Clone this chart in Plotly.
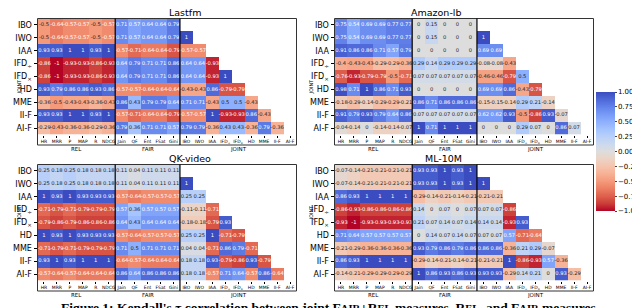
import plotly.graph_objects as go
import numpy as np

# ---------------- data ----------------
row_labels = ["IBO", "IWO", "IAA", "IFD<sub>÷</sub>", "IFD<sub>×</sub>", "HD", "MME", "II-F", "AI-F"]
rel_cols = ["HR", "MRR", "P", "MAP", "R", "NDCG"]
fair_cols = ["Jain", "QF", "Ent", "FSat", "Gini"]
joint_cols = ["IBO", "IWO", "IAA", "IFD<sub>÷</sub>", "IFD<sub>×</sub>", "HD", "MME", "II-F", "AI-F"]
datasets = ["Lastfm", "Amazon-lb", "QK-video", "ML-10M"]

lastfm_rel = [
    [-0.5, -0.64, -0.57, -0.57, -0.5, -0.57],
    [-0.5, -0.64, -0.57, -0.57, -0.5, -0.57],
    [0.93, 0.93, 1, 1, 0.93, 1],
    [-0.86, -1, -0.93, -0.93, -0.86, -0.93],
    [-0.86, -1, -0.93, -0.93, -0.86, -0.93],
    [0.93, 0.79, 0.86, 0.86, 0.93, 0.86],
    [-0.36, -0.5, -0.43, -0.43, -0.36, -0.43],
    [0.93, 0.93, 1, 1, 0.93, 1],
    [-0.29, -0.43, -0.36, -0.36, -0.29, -0.36],
]
lastfm_fair = [
    [0.71, 0.57, 0.64, 0.64, 0.79],
    [0.71, 0.57, 0.64, 0.64, 0.79],
    [-0.57, -0.71, -0.64, -0.64, -0.79],
    [0.64, 0.79, 0.71, 0.71, 0.86],
    [0.64, 0.79, 0.71, 0.71, 0.86],
    [-0.57, -0.57, -0.64, -0.64, -0.64],
    [0.86, 0.43, 0.79, 0.79, 0.64],
    [-0.57, -0.71, -0.64, -0.64, -0.79],
    [0.79, 0.36, 0.71, 0.71, 0.57],
]
lastfm_joint = [
    [],
    [1],
    [-0.57, -0.57],
    [0.64, 0.64, -0.93],
    [0.64, 0.64, -0.93, 1],
    [-0.43, -0.43, 0.86, -0.79, -0.79],
    [0.71, 0.71, -0.43, 0.5, 0.5, -0.43],
    [-0.57, -0.57, 1, -0.93, -0.93, 0.86, -0.43],
    [0.79, 0.79, -0.36, 0.43, 0.43, -0.36, 0.79, -0.36],
]

amazon_rel = [
    [0.75, 0.54, 0.69, 0.69, 0.77, 0.77],
    [0.75, 0.54, 0.69, 0.69, 0.77, 0.77],
    [0.91, 0.86, 0.86, 0.71, 0.57, 0.79],
    [-0.4, -0.43, -0.43, -0.29, -0.29, -0.36],
    [-0.76, -0.93, -0.79, -0.79, -0.5, -0.71],
    [0.98, 0.71, 1, 0.86, 0.71, 0.93],
    [-0.18, -0.29, -0.14, -0.29, -0.29, -0.21],
    [0.91, 0.79, 0.93, 0.79, 0.64, 0.86],
    [-0.04, -0.14, 0, -0.14, -0.14, -0.07],
]
amazon_fair = [
    [0, 0.15, 0, 0, 0],
    [0, 0.15, 0, 0, 0],
    [0, 0, 0, 0, 0],
    [0.29, 0.14, 0.29, 0.29, 0.29],
    [0.07, 0.07, 0.07, 0.07, 0.07],
    [0, 0, 0, 0, 0],
    [0.86, 0.71, 0.86, 0.86, 0.86],
    [0.07, 0.07, 0.07, 0.07, 0.07],
    [1, 0.71, 1, 1, 1],
]
amazon_joint = [
    [],
    [1],
    [0.69, 0.69],
    [-0.08, -0.08, -0.43],
    [-0.46, -0.46, -0.79, 0.5],
    [0.69, 0.69, 0.86, -0.43, -0.79],
    [-0.15, -0.15, -0.14, 0.29, 0.21, -0.14],
    [0.62, 0.62, 0.93, -0.5, -0.86, 0.93, -0.07],
    [0, 0, 0, 0.29, 0.07, 0, 0.86, 0.07],
]

qk_rel = [
    [0.25, 0.18, 0.25, 0.18, 0.18, 0.18],
    [0.25, 0.18, 0.25, 0.18, 0.18, 0.18],
    [1, 0.93, 1, 0.93, 0.93, 0.93],
    [-0.71, -0.79, -0.71, -0.79, -0.79, -0.79],
    [-0.79, -0.86, -0.79, -0.86, -0.86, -0.86],
    [1, 0.93, 1, 0.93, 0.93, 0.93],
    [-0.71, -0.79, -0.71, -0.79, -0.79, -0.79],
    [0.93, 1, 0.93, 1, 1, 1],
    [-0.57, -0.64, -0.57, -0.64, -0.64, -0.64],
]
qk_fair = [
    [0.11, 0.04, 0.11, 0.11, 0.11],
    [0.11, 0.04, 0.11, 0.11, 0.11],
    [-0.57, -0.64, -0.57, -0.57, -0.57],
    [0.57, 0.36, 0.57, 0.57, 0.57],
    [0.64, 0.43, 0.64, 0.64, 0.64],
    [-0.57, -0.64, -0.57, -0.57, -0.57],
    [0.71, 0.5, 0.71, 0.71, 0.71],
    [-0.64, -0.57, -0.64, -0.64, -0.64],
    [0.86, 0.64, 0.86, 0.86, 0.86],
]
qk_joint = [
    [],
    [1],
    [0.25, 0.25],
    [-0.11, -0.11, -0.71],
    [-0.18, -0.18, -0.79, 0.93],
    [0.25, 0.25, 1, -0.71, -0.79],
    [0.04, 0.04, -0.71, 0.86, 0.79, -0.71],
    [0.18, 0.18, 0.93, -0.79, -0.86, 0.93, -0.79],
    [0.18, 0.18, -0.57, 0.71, 0.64, -0.57, 0.86, -0.64],
]

ml_rel = [
    [-0.07, -0.14, -0.21, -0.21, -0.21, -0.21],
    [-0.07, -0.14, -0.21, -0.21, -0.21, -0.21],
    [0.86, 0.93, 1, 1, 1, 1],
    [-0.86, -0.93, -0.86, -0.86, -0.86, -0.86],
    [-0.93, -1, -0.93, -0.93, -0.93, -0.93],
    [0.71, 0.64, 0.57, 0.57, 0.57, 0.57],
    [-0.21, -0.29, -0.36, -0.36, -0.36, -0.36],
    [0.86, 0.93, 1, 1, 1, 1],
    [-0.14, -0.21, -0.29, -0.29, -0.29, -0.29],
]
ml_fair = [
    [0.93, 0.93, 1, 0.93, 1],
    [0.93, 0.93, 1, 0.93, 1],
    [-0.29, -0.14, -0.21, -0.14, -0.21],
    [0.14, 0, 0.07, 0, 0.07],
    [0.21, 0.07, 0.14, 0.07, 0.14],
    [0, 0.14, 0.07, 0.14, 0.07],
    [0.93, 0.79, 0.86, 0.79, 0.86],
    [-0.29, -0.14, -0.21, -0.14, -0.21],
    [1, 0.86, 0.93, 0.86, 0.93],
]
ml_joint = [
    [],
    [1],
    [-0.21, -0.21],
    [0.07, 0.07, -0.86],
    [0.14, 0.14, -0.93, 0.93],
    [0.07, 0.07, 0.57, -0.71, -0.64],
    [0.86, 0.86, -0.36, 0.21, 0.29, -0.07],
    [-0.21, -0.21, 1, -0.86, -0.93, 0.57, -0.36],
    [0.93, 0.93, -0.29, 0.14, 0.21, 0, 0.93, -0.29],
]

panels_data = [
    (lastfm_rel, lastfm_fair, lastfm_joint),
    (amazon_rel, amazon_fair, amazon_joint),
    (qk_rel, qk_fair, qk_joint),
    (ml_rel, ml_fair, ml_joint),
]

# ---------------- colormap (reversed coolwarm) ----------------
cw_pos = [0.0, 0.0625, 0.125, 0.1875, 0.25, 0.3125, 0.375, 0.4375, 0.5,
          0.5625, 0.625, 0.6875, 0.75, 0.8125, 0.875, 0.9375, 1.0]
cw_r = [0.2298, 0.3039, 0.3830, 0.4667, 0.5530, 0.6392, 0.7222, 0.7987, 0.8654,
        0.9241, 0.9589, 0.9700, 0.9580, 0.9239, 0.8692, 0.7956, 0.7057]
cw_g = [0.2987, 0.4065, 0.5094, 0.6046, 0.6889, 0.7596, 0.8140, 0.8498, 0.8654,
        0.8274, 0.7698, 0.6943, 0.6028, 0.4973, 0.3783, 0.2413, 0.0156]
cw_b = [0.7537, 0.8450, 0.9174, 0.9682, 0.9954, 0.9982, 0.9766, 0.9317, 0.8654,
        0.7745, 0.6780, 0.5794, 0.4818, 0.3880, 0.3003, 0.2205, 0.1502]

colorscale = []
for p, r, g, b in zip(cw_pos, cw_r, cw_g, cw_b):
    colorscale.append([1 - p, f"rgb({r*255:.0f},{g*255:.0f},{b*255:.0f})"])
colorscale = sorted(colorscale, key=lambda c: c[0])


def cell_rgb(v):
    p = 1 - (v + 1) / 2
    return (np.interp(p, cw_pos, cw_r), np.interp(p, cw_pos, cw_g), np.interp(p, cw_pos, cw_b))


def lum(rgb):
    out = []
    for c in rgb:
        out.append(c / 12.92 if c <= 0.03928 else ((c + 0.055) / 1.055) ** 2.4)
    return 0.2126 * out[0] + 0.7152 * out[1] + 0.0722 * out[2]


def fmt(v):
    return format(v, ".2g")


# ---------------- geometry ----------------
W, H = 640, 308
def px(x):
    return x / W
def py(y):
    return 1 - y / H

cols_all = rel_cols + fair_cols + joint_cols
ncol, nrow = len(cols_all), len(row_labels)
lefts = [29.5, 326.5, 29.5, 326.5]
rights = [288.5, 585.5, 288.5, 585.5]
tops = [10.5, 10.5, 156.5, 156.5]
bottoms = [126.5, 126.5, 272.5, 272.5]
frame_bottom_off = 10.5

fig = go.Figure()
layout = {}
annotations = []
shapes = []

for k in range(4):
    rel, fair, joint = panels_data[k]
    z = []
    for i in range(nrow):
        row = list(rel[i]) + list(fair[i]) + list(joint[i]) + [None] * (len(joint_cols) - len(joint[i]))
        z.append(row)
    ax = "" if k == 0 else str(k + 1)
    fig.add_trace(go.Heatmap(
        z=z, x=list(range(ncol)), y=list(range(nrow)),
        colorscale=colorscale, zmin=-1, zmax=1,
        showscale=(k == 0), hoverinfo="skip",
        xaxis="x" + ax, yaxis="y" + ax,
        colorbar=dict(
            x=px(588), xanchor="left", xpad=0, ypad=0,
            y=py(143.5), yanchor="middle", len=119 / H, lenmode="fraction",
            thickness=19, outlinewidth=0,
            tickvals=[-1, -0.75, -0.5, -0.25, 0, 0.25, 0.5, 0.75, 1],
            tickformat=".2f", ticks="outside", ticklen=2, tickwidth=0.8,
            tickfont=dict(size=7, color="black", family="DejaVu Sans"),
        ),
    ))
    tx, ty, tt, tc = [], [], [], []
    for i in range(nrow):
        for j in range(ncol):
            v = z[i][j]
            if v is None:
                continue
            tx.append(j)
            ty.append(i)
            tt.append(fmt(v))
            tc.append("#262626" if lum(cell_rgb(v)) > 0.408 else "white")
    fig.add_trace(go.Scatter(
        x=tx, y=ty, text=tt, mode="text", hoverinfo="skip", showlegend=False,
        textfont=dict(size=5.2, color=tc, family="DejaVu Sans"),
        xaxis="x" + ax, yaxis="y" + ax,
    ))
    L, R, T, B = lefts[k], rights[k], tops[k], bottoms[k]
    layout["xaxis" + ax] = dict(
        domain=[px(L), px(R)], range=[-0.5, ncol - 0.5], anchor="y" + ax,
        tickvals=list(range(ncol)), ticktext=cols_all, tickangle=0,
        tickfont=dict(size=4.5, color="black"), ticks="outside", ticklen=2, tickwidth=0.6,
        tickcolor="black", showgrid=False, zeroline=False, showline=False,
    )
    layout["yaxis" + ax] = dict(
        domain=[py(B), py(T)], range=[nrow - 0.5, -0.5], anchor="x" + ax,
        tickvals=list(range(nrow)), ticktext=row_labels,
        tickfont=dict(size=8, color="black"), ticks="outside", ticklen=3, tickwidth=0.8,
        tickcolor="black", showgrid=False, zeroline=False, showline=False,
    )
    FB = B + frame_bottom_off
    cw = (R - L) / ncol
    shapes.append(dict(type="rect", xref="paper", yref="paper",
                       x0=px(L), x1=px(R), y0=py(FB), y1=py(T),
                       line=dict(color="#333333", width=1)))
    for nb in (len(rel_cols), len(rel_cols) + len(fair_cols)):
        shapes.append(dict(type="line", xref="paper", yref="paper",
                           x0=px(L + nb * cw), x1=px(L + nb * cw), y0=py(FB), y1=py(T),
                           line=dict(color="black", width=1.2)))
    groups = [("REL", 0, len(rel_cols)),
              ("FAIR", len(rel_cols), len(rel_cols) + len(fair_cols)),
              ("JOINT", len(rel_cols) + len(fair_cols), ncol)]
    for name, a, b in groups:
        annotations.append(dict(text=name, xref="x" + ax, yref="paper",
                                x=(a + b - 1) / 2, y=py(FB + 4), showarrow=False,
                                font=dict(size=5.5, color="black"), yanchor="middle"))
    annotations.append(dict(text="JOINT", xref="paper", yref="paper",
                            x=px(L - 24.5), y=py((T + B) / 2), textangle=-90,
                            showarrow=False, font=dict(size=5, color="black")))
    annotations.append(dict(text=datasets[k], xref="paper", yref="paper",
                            x=px((L + R) / 2), y=py(T - 6), showarrow=False,
                            font=dict(size=9.5, color="black"), yanchor="middle"))

annotations.append(dict(
    text="<b>Figure 1: Kendall's τ correlation between joint F<span style='font-size:10.5px'>AIR</span>+R<span style='font-size:10.5px'>EL</span> measures, R<span style='font-size:10.5px'>EL</span>, and F<span style='font-size:10.5px'>AIR</span> measures</b>",
    xref="paper", yref="paper", x=0.5, y=py(299), showarrow=False, yanchor="middle",
    font=dict(size=13.5, family="Liberation Serif", color="black")))

fig.update_layout(
    width=W, height=H, margin=dict(l=0, r=0, t=0, b=0),
    paper_bgcolor="white", plot_bgcolor="white",
    font=dict(family="DejaVu Sans", color="black"),
    showlegend=False, annotations=annotations, shapes=shapes,
    **layout,
)

fig.write_html("out.html")
